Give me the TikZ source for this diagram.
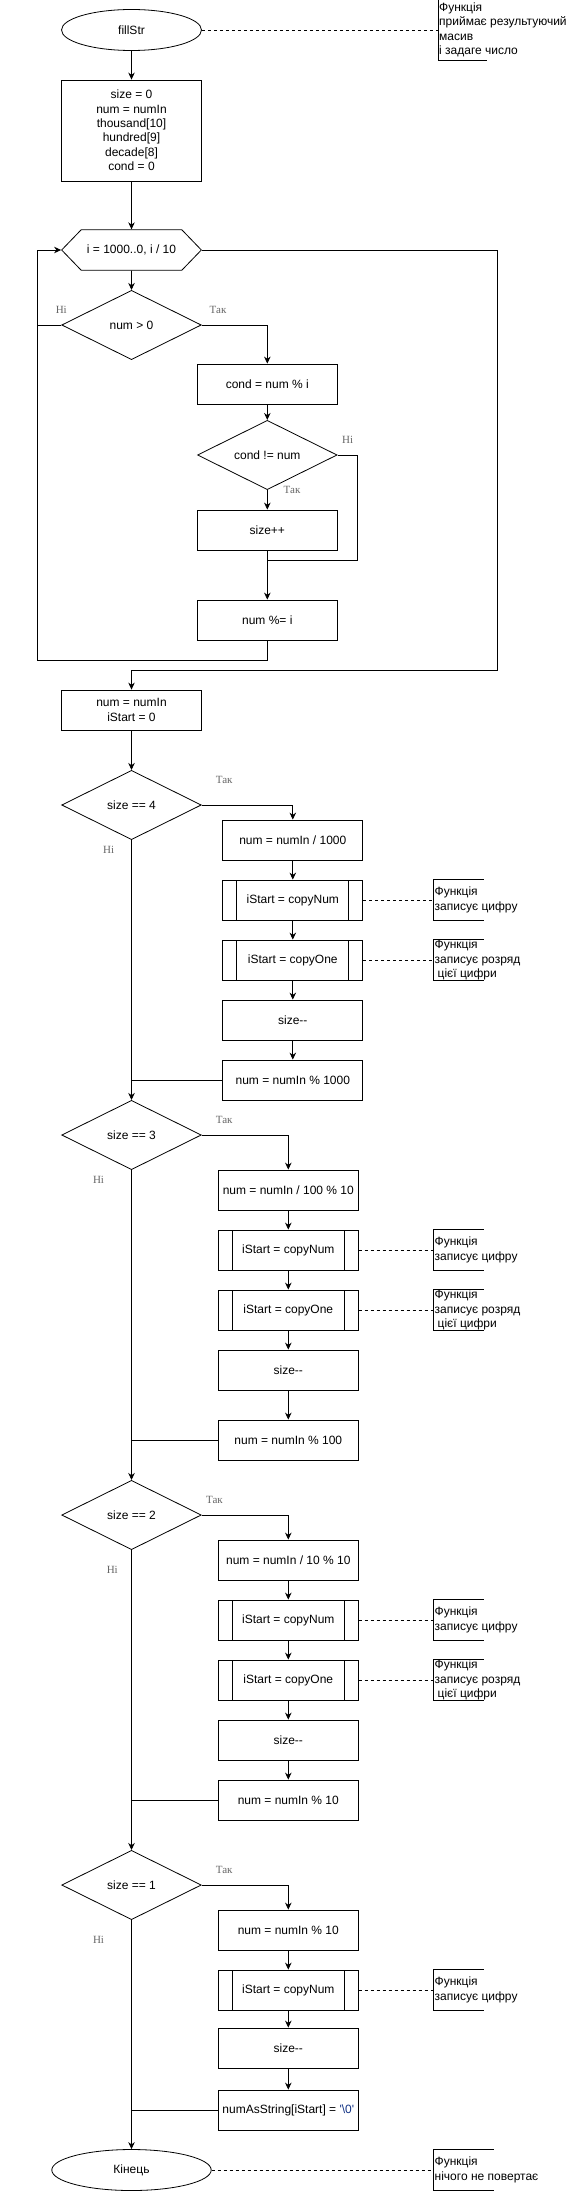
\documentclass[tikz,border=0pt]{standalone}
\usepackage{fontspec}
\setmainfont{Liberation Sans}
\newfontfamily\lblfont{Liberation Serif}
\usetikzlibrary{shapes.geometric, shapes.symbols, arrows.meta}
\definecolor{strblue}{RGB}{17,49,132}

\tikzstyle{startstop} = [ellipse, minimum width=140pt, minimum height=41pt, inner sep=0pt, text centered, draw=black, thick]
\tikzstyle{process} = [rectangle, minimum width=140pt, minimum height=40pt, inner xsep=3pt, text centered, align=center, draw=black, thick]
\tikzstyle{subproc} = [process,
path picture={\draw[thick] ([xshift=14pt]path picture bounding box.north west) -- ([xshift=14pt]path picture bounding box.south west)
([xshift=-14pt]path picture bounding box.north east) -- ([xshift=-14pt]path picture bounding box.south east);}]
\tikzstyle{decision} = [diamond, aspect=2, minimum width=139.6pt, minimum height=69.3pt, inner sep=0pt, text centered, draw=black, thick]
\tikzstyle{loopstart} = [signal, signal to=west and east, signal pointer angle=92,
minimum width=139.7pt, minimum height=40.5pt, inner sep=0pt, draw=black, thick]
\tikzstyle{note} = [anchor=west, align=left, inner xsep=1pt, inner ysep=0pt]
\tikzstyle{lbl} = [font=\lblfont\fontsize{11}{13}\selectfont, text=black!60]
\tikzstyle{arrow} = [thick,->,>={Stealth[length=7pt,width=6.5pt]}]
\tikzstyle{link} = [thick, dash pattern=on 3pt off 3pt]

\begin{document}
\begin{tikzpicture}[x=1pt, y=1pt, node distance=60pt, font=\fontsize{12}{14.4}\selectfont]
\useasboundingbox (0,0) rectangle (568,-2191);
\coordinate (nx) at (433.5,0);

% start and loop
\node (start) [startstop] at (131.5,-30) {fillStr};
\node (init) [process, below of=start, yshift=-40.5pt, minimum height=101pt] {size = 0\\num = numIn\\thousand[10]\\hundred[9]\\decade[8]\\cond = 0};
\node (loop) [loopstart, below of=init, yshift=-59.5pt] {i = 1000..0, i / 10};
\node (dec1) [decision, below of=loop, yshift=-15pt] {num > 0};
\node (cnd) [process, below of=dec1, xshift=135.8pt, yshift=1pt] {cond = num \% i};
\node (dec2) [decision, below of=cnd, yshift=-11pt] {cond != num};
\node (inc) [process, below of=dec2, yshift=-15pt] {size++};
\node (mod) [process, below of=inc, yshift=-30pt] {num \%= i};
\node (rst) [process, below of=mod, xshift=-135.8pt, yshift=-30pt] {num = numIn\\iStart = 0};

% size == 4
\node (d4) [decision, below of=rst, yshift=-35pt] {size == 4};
\node (b4a) [process, right of=d4, xshift=101.3pt, yshift=-35pt] {num = numIn / 1000};
\node (b4b) [subproc, below of=b4a] {iStart = copyNum};
\node (b4c) [subproc, below of=b4b] {iStart = copyOne};
\node (b4d) [process, below of=b4c] {size{-}{-}};
\node (b4e) [process, below of=b4d] {num = numIn \% 1000};

% size == 3
\node (d3) [decision, below of=d4, yshift=-270pt] {size == 3};
\node (b3a) [process, right of=d3, xshift=96.8pt, yshift=-55pt] {num = numIn / 100 \% 10};
\node (b3b) [subproc, below of=b3a] {iStart = copyNum};
\node (b3c) [subproc, below of=b3b] {iStart = copyOne};
\node (b3d) [process, below of=b3c] {size{-}{-}};
\node (b3e) [process, below of=b3d, yshift=-10pt] {num = numIn \% 100};

% size == 2
\node (d2) [decision, below of=d3, yshift=-320pt] {size == 2};
\node (b2a) [process, right of=d2, xshift=96.8pt, yshift=-45pt] {num = numIn / 10 \% 10};
\node (b2b) [subproc, below of=b2a] {iStart = copyNum};
\node (b2c) [subproc, below of=b2b] {iStart = copyOne};
\node (b2d) [process, below of=b2c] {size{-}{-}};
\node (b2e) [process, below of=b2d] {num = numIn \% 10};

% size == 1
\node (d1) [decision, below of=d2, yshift=-310pt] {size == 1};
\node (b1a) [process, right of=d1, xshift=96.8pt, yshift=-45pt] {num = numIn \% 10};
\node (b1b) [subproc, below of=b1a] {iStart = copyNum};
\node (b1c) [process, below of=b1b, yshift=2pt] {size{-}{-}};
\node (b1d) [process, below of=b1c, yshift=-2pt] {numAsString[iStart] = {\color{strblue}\textquotesingle\textbackslash 0\textquotesingle}};
\node (stop) [startstop, below of=d1, yshift=-225pt, minimum width=159.4pt] {Кінець};

% notes
\node (nstart) [note, minimum height=60pt, xshift=4.5pt] at (nx |- start) {Функція\\приймає результуючий\\масив\\і задаге число};
\node (nb4b) [note, minimum height=40pt] at (nx |- b4b) {Функція\\записує цифру};
\node (nb4c) [note, minimum height=40pt] at (nx |- b4c) {Функція\\записує розряд\\\hspace{3pt}цієї цифри};
\node (nb3b) [note, minimum height=40pt] at (nx |- b3b) {Функція\\записує цифру};
\node (nb3c) [note, minimum height=40pt] at (nx |- b3c) {Функція\\записує розряд\\\hspace{3pt}цієї цифри};
\node (nb2b) [note, minimum height=40pt] at (nx |- b2b) {Функція\\записує цифру};
\node (nb2c) [note, minimum height=40pt] at (nx |- b2c) {Функція\\записує розряд\\\hspace{3pt}цієї цифри};
\node (nb1b) [note, minimum height=40pt] at (nx |- b1b) {Функція\\записує цифру};
\node (nstop) [note, minimum height=40pt] at (nx |- stop) {Функція\\нічого не повертає};

\draw [thick] ([xshift=49pt]nstart.north west) -- (nstart.north west) -- (nstart.south west) -- ([xshift=49pt]nstart.south west);
\draw [thick] ([xshift=50pt]nb4b.north west) -- (nb4b.north west) -- (nb4b.south west) -- ([xshift=50pt]nb4b.south west);
\draw [thick] ([xshift=50pt]nb4c.north west) -- (nb4c.north west) -- (nb4c.south west) -- ([xshift=50pt]nb4c.south west);
\draw [thick] ([xshift=50pt]nb3b.north west) -- (nb3b.north west) -- (nb3b.south west) -- ([xshift=50pt]nb3b.south west);
\draw [thick] ([xshift=50pt]nb3c.north west) -- (nb3c.north west) -- (nb3c.south west) -- ([xshift=50pt]nb3c.south west);
\draw [thick] ([xshift=50pt]nb2b.north west) -- (nb2b.north west) -- (nb2b.south west) -- ([xshift=50pt]nb2b.south west);
\draw [thick] ([xshift=50pt]nb2c.north west) -- (nb2c.north west) -- (nb2c.south west) -- ([xshift=50pt]nb2c.south west);
\draw [thick] ([xshift=50pt]nb1b.north west) -- (nb1b.north west) -- (nb1b.south west) -- ([xshift=50pt]nb1b.south west);
\draw [thick] ([xshift=60pt]nstop.north west) -- (nstop.north west) -- (nstop.south west) -- ([xshift=60pt]nstop.south west);

\draw [link] (start.east) -- (nstart.west);
\draw [link] (b4b.east) -- (nb4b.west);
\draw [link] (b4c.east) -- (nb4c.west);
\draw [link] (b3b.east) -- (nb3b.west);
\draw [link] (b3c.east) -- (nb3c.west);
\draw [link] (b2b.east) -- (nb2b.west);
\draw [link] (b2c.east) -- (nb2c.west);
\draw [link] (b1b.east) -- (nb1b.west);
\draw [link] (stop.east) -- (nstop.west);

% loop connectors
\draw [arrow] (start) -- (init);
\draw [arrow] (init) -- (loop);
\draw [arrow] (loop) -- (dec1);
\draw [arrow] (dec1.east) node[lbl, xshift=16.3pt, yshift=15pt] (y1) {Так} -| (cnd.north);
\draw [arrow] (cnd) -- (dec2);
\draw [arrow] (dec2.south) node[lbl, xshift=24.7pt] (y2) {Так} -- (inc.north);
\coordinate (jn) at (357.5,-560);
\draw [thick] (dec2.east) node[lbl, xshift=10.1pt, yshift=15pt] (n2) {Ні} -| (jn) -- (jn -| inc);
\draw [arrow] (inc) -- (mod);
\coordinate (lpl) at (37.3,-660);
\draw [arrow] (mod.south) |- (lpl) |- (loop.west);
\draw [thick] (dec1.west) node[lbl, yshift=15pt] (n1) {Ні} -- (dec1.west -| lpl);
\coordinate (lpr) at (497.4,-670);
\draw [arrow] (loop.east) -| (lpr) -| (rst.north);
\draw [arrow] (rst) -- (d4);

% size == 4
\draw [arrow] (d4.east) node[lbl, xshift=22.5pt, yshift=25pt] (y4) {Так} -| (b4a.north);
\draw [arrow] (b4a) -- (b4b);
\draw [arrow] (b4b) -- (b4c);
\draw [arrow] (b4c) -- (b4d);
\draw [arrow] (b4d) -- (b4e);
\draw [arrow] (d4.south) node[lbl, xshift=-22.8pt, yshift=-10pt] (n4) {Ні} -- (d3.north);
\draw [thick] (b4e.west) -- (b4e.west -| d4.south);

% size == 3
\draw [arrow] (d3.east) node[lbl, xshift=22.5pt, yshift=15pt] (y3) {Так} -| (b3a.north);
\draw [arrow] (b3a) -- (b3b);
\draw [arrow] (b3b) -- (b3c);
\draw [arrow] (b3c) -- (b3d);
\draw [arrow] (b3d) -- (b3e);
\draw [arrow] (d3.south) node[lbl, xshift=-33pt, yshift=-10pt] (n3) {Ні} -- (d2.north);
\draw [thick] (b3e.west) -- (b3e.west -| d3.south);

% size == 2
\draw [arrow] (d2.east) node[lbl, xshift=12.7pt, yshift=15pt] (y5) {Так} -| (b2a.north);
\draw [arrow] (b2a) -- (b2b);
\draw [arrow] (b2b) -- (b2c);
\draw [arrow] (b2c) -- (b2d);
\draw [arrow] (b2d) -- (b2e);
\draw [arrow] (d2.south) node[lbl, xshift=-19.2pt, yshift=-20pt] (n5) {Ні} -- (d1.north);
\draw [thick] (b2e.west) -- (b2e.west -| d2.south);

% size == 1
\draw [arrow] (d1.east) node[lbl, xshift=22.5pt, yshift=15pt] (y6) {Так} -| (b1a.north);
\draw [arrow] (b1a) -- (b1b);
\draw [arrow] (b1b) -- (b1c);
\draw [arrow] (b1c) -- (b1d);
\draw [arrow] (d1.south) node[lbl, xshift=-33pt, yshift=-20pt] (n6) {Ні} -- (stop.north);
\draw [thick] (b1d.west) -- (b1d.west -| d1.south);

\end{tikzpicture}
\end{document}
